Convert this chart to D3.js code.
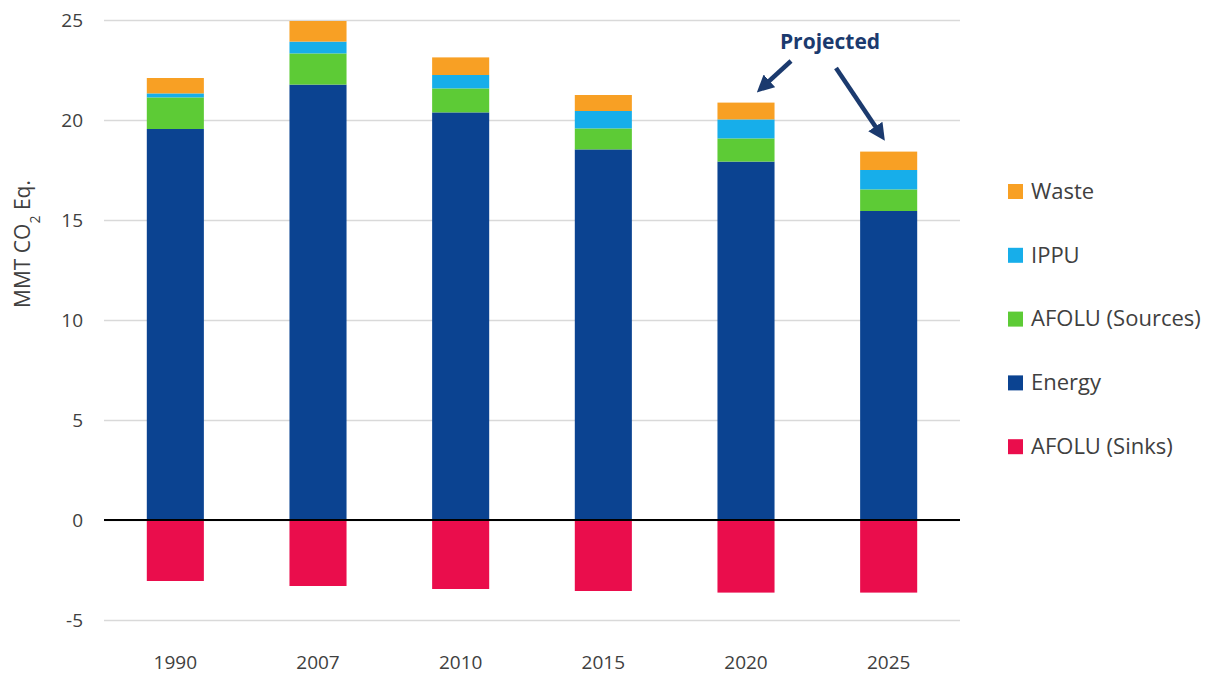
<!DOCTYPE html>
<html>
<head>
<meta charset="utf-8">
<script src="https://cdn.jsdelivr.net/npm/d3@7"></script>
<style>
  body { margin: 0; background: #fff; }
  svg { display: block; font-family: "Open Sans", "Noto Sans", sans-serif; }
</style>
</head>
<body>
<svg id="chart"></svg>
<script>
// values (MMT CO2 Eq.)
let years = ['1990', '2007', '2010', '2015', '2020', '2025'];
let energy = [19.55, 21.77, 20.38, 18.53, 17.92, 15.45];
let afoluSources = [1.58, 1.56, 1.2, 1.05, 1.16, 1.08];
let ippu = [0.2, 0.59, 0.67, 0.87, 0.95, 0.97];
let waste = [0.77, 1.03, 0.88, 0.8, 0.84, 0.92];
let afoluSinks = [-3.05, -3.3, -3.45, -3.55, -3.63, -3.63];
let yTicks = [-5, 0, 5, 10, 15, 20, 25];
let projectedYears = ['2020', '2025'];

let seriesNames = ['Energy', 'AFOLU (Sources)', 'IPPU', 'Waste'];
let seriesValues = [energy, afoluSources, ippu, waste];
let legendNames = ['Waste', 'IPPU', 'AFOLU (Sources)', 'Energy', 'AFOLU (Sinks)'];
let colors = {
    'Waste': '#F8A024',
    'IPPU': '#17AEEA',
    'AFOLU (Sources)': '#5DCB36',
    'Energy': '#0B4391',
    'AFOLU (Sinks)': '#EA0D4C'
};

let width = 1217, height = 679;
let plot = {left: 104, right: 960, top: 20, bottom: 620};

let svg = d3.select('#chart').attr('width', width).attr('height', height);

let xScale = d3.scaleBand().domain(years).range([plot.left, plot.right]).paddingInner(0.6).paddingOuter(0.3);
let yScale = d3.scaleLinear().domain([-5, 25]).range([plot.bottom, plot.top]);

// gridlines
svg.append('g')
    .attr('transform', 'translate(' + plot.left + ',0)')
    .call(d3.axisLeft(yScale).tickValues(yTicks).tickSize(-(plot.right - plot.left)).tickFormat(''))
    .call(g => g.select('.domain').remove())
    .call(g => g.selectAll('line').attr('stroke', '#D9D9D9').attr('stroke-width', 1.5));

// y tick labels (plain hyphen for the minus, as in the original)
svg.append('g')
    .attr('transform', 'translate(' + plot.left + ',0)')
    .call(d3.axisLeft(yScale).tickValues(yTicks).tickSize(0).tickPadding(21).tickFormat(d => String(d)))
    .call(g => g.select('.domain').remove())
    .call(g => g.selectAll('text').attr('fill', '#404040').style('font-size', '19px').style('font-family', '"Open Sans", sans-serif'));

// stacked positives
let rows = years.map((yr, i) => {
    let r = {year: yr};
    seriesNames.forEach((s, j) => { r[s] = seriesValues[j][i]; });
    return r;
});
let stacked = d3.stack().keys(seriesNames)(rows);

svg.append('g').selectAll('g').data(stacked).enter().append('g')
    .attr('fill', d => colors[d.key])
    .selectAll('rect').data(d => d).enter().append('rect')
        .attr('x', d => xScale(d.data.year))
        .attr('width', xScale.bandwidth())
        .attr('y', d => yScale(d[1]))
        .attr('height', d => yScale(d[0]) - yScale(d[1]));

// sinks (negative)
svg.append('g').selectAll('rect').data(afoluSinks).enter().append('rect')
    .attr('x', (d, i) => xScale(years[i]))
    .attr('width', xScale.bandwidth())
    .attr('y', yScale(0))
    .attr('height', d => yScale(d) - yScale(0))
    .attr('fill', colors['AFOLU (Sinks)']);

// zero line
svg.append('line')
    .attr('x1', plot.left).attr('x2', plot.right)
    .attr('y1', yScale(0)).attr('y2', yScale(0))
    .attr('stroke', '#000').attr('stroke-width', 2);

// x labels
svg.append('g')
    .attr('transform', 'translate(0,' + (plot.bottom + 28) + ')')
    .call(d3.axisBottom(xScale).tickSize(0).tickPadding(8))
    .call(g => g.select('.domain').remove())
    .call(g => g.selectAll('text').attr('fill', '#404040').style('font-size', '19px').style('font-family', '"Open Sans", sans-serif'));

// y axis title
svg.append('text')
    .attr('transform', 'translate(30,' + 244 + ') rotate(-90)')
    .attr('text-anchor', 'middle')
    .attr('fill', '#404040')
    .style('font-size', '21px')
    .html('MMT CO<tspan baseline-shift="sub" font-size="14px">2</tspan> Eq.');

// legend
let legend = svg.append('g').selectAll('g').data(legendNames).enter().append('g')
    .attr('transform', (d, i) => 'translate(1008,' + (191 + i * 63.8) + ')');
legend.append('rect').attr('x', 0).attr('y', -7).attr('width', 15).attr('height', 15).attr('fill', d => colors[d]);
legend.append('text').attr('x', 23).attr('y', 0).attr('dy', '0.35em')
    .attr('fill', '#404040').style('font-size', '22px').text(d => d);

// "Projected" annotation
let navy = '#1B3A6E';
svg.append('defs').append('marker')
    .attr('id', 'arrow').attr('viewBox', '0 0 10 10').attr('refX', 5).attr('refY', 5)
    .attr('markerWidth', 3.8).attr('markerHeight', 3.8).attr('orient', 'auto')
    .append('path').attr('d', 'M0,0 L10,5 L0,10 Z').attr('fill', navy);

svg.append('text')
    .attr('x', 830).attr('y', 42).attr('dy', '0.35em')
    .attr('text-anchor', 'middle').attr('fill', navy)
    .style('font-size', '21px').style('font-weight', 'bold')
    .text('Projected');

let tot = years.map((y, i) => energy[i] + afoluSources[i] + ippu[i] + waste[i]);
let bw = xScale.bandwidth();
let arrows = [
    {x1: 791, y1: 61, x2: xScale(projectedYears[0]) + bw * 0.8, y2: yScale(tot[4]) - 16},
    {x1: 836, y1: 68, x2: xScale(projectedYears[1]) + bw * 0.35, y2: yScale(tot[5]) - 18}
];
svg.append('g').selectAll('line').data(arrows).enter().append('line')
    .attr('x1', d => d.x1).attr('y1', d => d.y1)
    .attr('x2', d => d.x2).attr('y2', d => d.y2)
    .attr('stroke', navy).attr('stroke-width', 4.5)
    .attr('marker-end', 'url(#arrow)');
</script>
</body>
</html>
